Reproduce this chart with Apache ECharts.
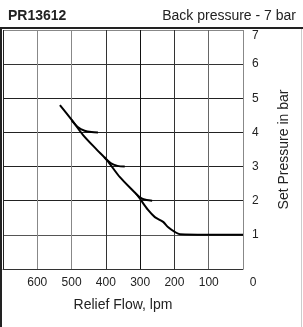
<!DOCTYPE html>
<html>
<head>
<meta charset="utf-8">
<script src="https://cdn.jsdelivr.net/npm/echarts@6/dist/echarts.min.js"></script>
<style>
  html, body { margin: 0; padding: 0; background: #fff; }
  #chart { width: 303px; height: 327px; }
</style>
</head>
<body>
<div id="chart"></div>
<script>
// relief flow (lpm) / set pressure (bar)
const mainFlow = [534, 499, 467, 426, 397, 359, 309, 300, 277, 257, 233, 219, 198, 184, 0];
const mainPressure = [4.8, 4.36, 3.93, 3.49, 3.19, 2.69, 2.17, 2.05, 1.73, 1.52, 1.38, 1.23, 1.08, 1.02, 1.0];
const branch4Flow = [500, 482, 462, 442, 423];
const branch4Pressure = [4.36, 4.16, 4.05, 4.01, 4.0];
const branch3Flow = [405, 386, 366, 345];
const branch3Pressure = [3.28, 3.1, 3.02, 3.0];
const branch2Flow = [312, 296, 281, 265];
const branch2Pressure = [2.2, 2.07, 2.02, 2.0];

const flowTicks = [0, 100, 200, 300, 400, 500, 600, 700];
const pressureTicks = [0, 1, 2, 3, 4, 5, 6, 7];

const FONT = "'Liberation Sans', Arial, sans-serif";

function zip(xs, ys) {
  return xs.map((x, i) => [x, ys[i]]);
}

function curve(name, xs, ys) {
  return {
    name: name,
    type: "line",
    data: zip(xs, ys),
    showSymbol: false,
    smooth: 0.3,
    lineStyle: { color: "#000", width: 2 },
    silent: true,
  };
}

const chart = echarts.init(document.getElementById("chart"));
chart.setOption({
  animation: false,
  textStyle: { fontFamily: FONT },
  title: [
    {
      text: "PR13612",
      left: 3,
      top: 4,
      textStyle: { fontSize: 14, fontWeight: "bold", color: "#222", fontFamily: FONT },
    },
    {
      text: "Back pressure - 7 bar",
      right: 2,
      top: 4,
      textStyle: { fontSize: 14, fontWeight: "normal", color: "#222", fontFamily: FONT },
    },
  ],
  grid: { left: 3, right: 60, top: 30, bottom: 58 },
  xAxis: {
    type: "value",
    inverse: true,
    min: flowTicks[0],
    max: flowTicks[flowTicks.length - 1],
    interval: 100,
    name: "Relief Flow, lpm",
    nameLocation: "middle",
    nameGap: 29,
    nameTextStyle: { fontSize: 14, color: "#222", fontFamily: FONT },
    axisLine: { show: true, lineStyle: { color: "#333", width: 1 } },
    axisTick: { show: false },
    axisLabel: {
      fontSize: 12,
      color: "#222",
      margin: 8,
      formatter: (v) => (v === 700 ? "" : v === 0 ? "{z|0}" : String(v)),
      rich: { z: { fontSize: 12, color: "#222", padding: [0, 0, 0, 20] } },
    },
    splitLine: {
      show: true,
      lineStyle: {
        width: 1,
        color: ["#888", "#666", "#333", "#111", "#333", "#888", "#888", "#222"],
      },
    },
  },
  yAxis: {
    type: "value",
    position: "right",
    min: pressureTicks[0],
    max: pressureTicks[pressureTicks.length - 1],
    interval: 1,
    name: "Set Pressure in bar",
    nameLocation: "middle",
    nameRotate: 90,
    nameGap: 34,
    nameTextStyle: { fontSize: 14, color: "#222", fontFamily: FONT },
    axisLine: { show: false },
    axisTick: { show: false },
    axisLabel: {
      fontSize: 12,
      color: "#222",
      margin: 9,
      formatter: (v) => (v === 0 ? "" : v === 7 ? "{t|7}" : String(v)),
      rich: { t: { fontSize: 12, color: "#222", padding: [12, 0, 0, 0] } },
    },
    splitLine: {
      show: true,
      lineStyle: {
        width: 1,
        color: ["#333", "#555", "#222", "#222", "#222", "#222", "#333", "#888"],
      },
    },
  },
  graphic: [
    { type: "rect", shape: { x: 0, y: 27, width: 303, height: 2 }, style: { fill: "#222" }, silent: true },
    { type: "rect", shape: { x: 0, y: 27, width: 2, height: 300 }, style: { fill: "#222" }, silent: true },
    { type: "rect", shape: { x: 301, y: 29, width: 1, height: 298 }, style: { fill: "#ccc" }, silent: true },
  ],
  series: [
    curve("main", mainFlow, mainPressure),
    curve("4 bar", branch4Flow, branch4Pressure),
    curve("3 bar", branch3Flow, branch3Pressure),
    curve("2 bar", branch2Flow, branch2Pressure),
  ],
});
</script>
</body>
</html>
